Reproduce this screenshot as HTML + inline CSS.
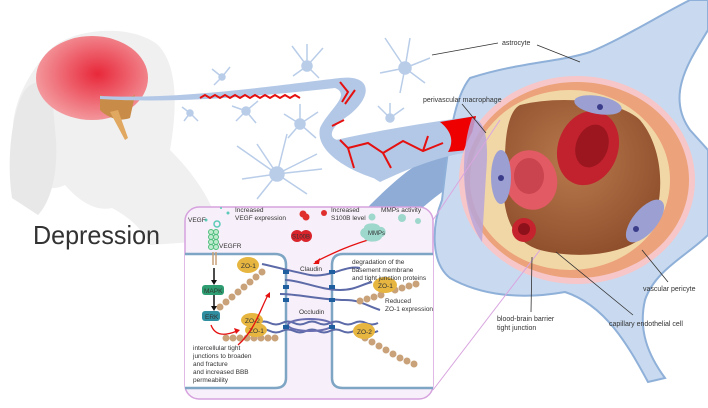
<!DOCTYPE html>
<html><head><meta charset="utf-8"><style>
html,body{margin:0;padding:0;background:#fff;width:708px;height:408px;overflow:hidden}
svg{display:block}
text{font-family:"Liberation Sans",sans-serif;fill:#333}
</style></head><body>
<svg width="708" height="408" viewBox="0 0 708 408" xmlns="http://www.w3.org/2000/svg">
<defs>
<radialGradient id="br" cx="0.55" cy="0.45" r="0.6"><stop offset="0" stop-color="#e8283a"/><stop offset="1" stop-color="#f4a0a4"/></radialGradient>
<radialGradient id="lum" cx="0.45" cy="0.4" r="0.7"><stop offset="0" stop-color="#b97a4e"/><stop offset="1" stop-color="#8a4a28"/></radialGradient>
</defs>
<!-- head silhouette -->
<path d="M45,55 C65,28 130,22 158,45 C180,68 176,115 170,150 C190,170 215,200 222,240 L150,245 C140,225 125,215 112,208 C95,212 78,200 65,185 C45,195 25,180 15,150 C8,120 18,88 45,55 Z" fill="#f0f0f0"/>
<path d="M25,90 C35,78 48,80 52,95 L56,140 C58,170 52,200 38,215 L12,198 C6,160 12,110 25,90Z" fill="#e8e8e8"/>
<!-- brain -->
<ellipse cx="92" cy="78" rx="56" ry="42" fill="url(#br)"/>
<path d="M100,95 C110,100 125,100 135,95 L130,118 C120,122 108,118 100,110Z" fill="#c98c48"/>
<path d="M110,112 L125,140 L128,138 L118,110Z" fill="#e0a860"/>
<!-- dark blue diagonal band -->
<path d="M290,300 L335,300 C380,250 420,200 470,175 L470,140 C430,150 400,175 370,205 C340,240 315,270 290,300Z" fill="#8eacd6"/>
<!-- astrocyte body -->
<path d="M470,78 C520,62 560,62 590,52 C620,40 660,15 690,0 L708,0 L708,30 C690,60 665,95 690,130 L708,150 L708,235 C688,255 655,270 645,300 C638,330 648,355 665,378 L648,382 C628,345 605,305 565,292 C520,300 480,295 450,278 C430,262 432,225 442,200 C448,150 452,100 470,78 Z" fill="#c9daf0" stroke="#8fb0d8" stroke-width="2"/>
<!-- vessel thin -->
<path d="M100,96 C180,100 280,85 340,78 C375,74 372,100 345,118 C330,128 328,138 338,140 L380,180 C345,170 315,150 320,128 C328,110 352,95 335,88 C270,95 180,104 100,99Z" fill="#b3c8e6"/>
<!-- thick vessel -->
<path d="M336,140 C380,130 430,122 476,116 L470,152 C440,156 410,168 380,182 C360,170 345,155 336,140Z" fill="#b3c8e6"/>
<path d="M440,122 L476,116 L468,150 L448,152 C455,140 450,130 440,122Z" fill="#e00"/>
<g stroke="#e51010" stroke-width="2" fill="none">
<path d="M200,98 l5,-3 l5,3 l5,-3 l5,3 l5,-3 l5,3 l5,-3 l5,3 l5,-3 l5,3 l5,-3 l5,3 l5,-3 l5,3 l5,-3 l5,3 l5,-3 l5,3 l5,-3 l5,3"/>
<path d="M340,82 l8,10 l-6,10 M355,90 l-10,14 M332,126 l12,-6 M340,140 l8,8 l6,20 M348,148 l20,-5 l15,10 l8,15 M383,153 l20,-12 l20,10 l20,-8 M423,151 l5,-15"/>
</g>
<!-- astrocytes -->
<g fill="#b9cde9" stroke="#b9cde9" stroke-width="1.5">
<circle cx="307" cy="66" r="5"/><circle cx="405" cy="68" r="6"/><circle cx="222" cy="77" r="3"/><circle cx="190" cy="113" r="3"/><circle cx="246" cy="111" r="4"/><circle cx="300" cy="124" r="5"/><circle cx="277" cy="174" r="7"/><circle cx="390" cy="118" r="4"/>
<path d="M307,66 l-15,-20 M307,66 l0,-22 M307,66 l16,-18 M307,66 l12,12 M307,66 l-14,10 M405,68 l-20,-30 M405,68 l5,-30 M405,68 l25,-10 M405,68 l20,15 M405,68 l-5,25 M405,68 l-25,5 M222,77 l-10,-8 M222,77 l8,-10 M222,77 l-8,8 M190,113 l-8,-6 M190,113 l8,8 M190,113 l-6,8 M246,111 l-14,-5 M246,111 l12,-10 M246,111 l10,12 M246,111 l-10,10 M300,124 l-16,-10 M300,124 l0,-20 M300,124 l18,-12 M300,124 l16,14 M300,124 l-12,14 M277,174 l-40,-28 M277,174 l-20,-30 M277,174 l10,-40 M277,174 l40,-20 M277,174 l-35,5 M277,174 l-20,25 M277,174 l30,20 M277,174 l45,-5 M390,118 l-12,-12 M390,118 l0,-15 M390,118 l14,-10" fill="none"/>
</g>
<!-- capillary cross-section -->
<ellipse cx="577" cy="180" rx="118" ry="104" fill="#f6c6c8"/>
<ellipse cx="577" cy="180" rx="112" ry="98" fill="#eca27a"/>
<ellipse cx="570" cy="180" rx="100" ry="90" fill="#f2d7a6"/>
<path d="M472,118 C460,150 460,210 482,242 L486,175 C490,130 482,120 472,118Z" fill="#b8a6d8" opacity="0.85"/>
<path d="M520,105 C560,95 620,100 640,120 C665,150 665,200 650,230 C630,255 580,260 540,250 C505,240 500,200 505,160 C505,130 510,110 520,105Z" fill="url(#lum)"/>
<ellipse cx="588" cy="148" rx="30" ry="38" transform="rotate(20 588 148)" fill="#c2222e"/>
<ellipse cx="592" cy="146" rx="16" ry="22" transform="rotate(20 592 146)" fill="#9c1620"/>
<ellipse cx="531" cy="180" rx="26" ry="30" transform="rotate(-15 531 180)" fill="#e25a64"/>
<ellipse cx="529" cy="176" rx="15" ry="18" fill="#c9444e"/>
<ellipse cx="524" cy="230" rx="12" ry="12" fill="#c5232e"/>
<ellipse cx="524" cy="229" rx="6" ry="6" fill="#8d111a"/>
<ellipse cx="501" cy="177" rx="10" ry="27" fill="#9c9fd2"/><circle cx="501" cy="178" r="3" fill="#3a3c8a"/>
<ellipse cx="598" cy="105" rx="24" ry="9" transform="rotate(10 598 105)" fill="#9c9fd2"/><circle cx="600" cy="107" r="3" fill="#3a3c8a"/>
<ellipse cx="645" cy="221" rx="12" ry="26" transform="rotate(40 645 221)" fill="#9c9fd2"/><circle cx="636" cy="229" r="3" fill="#3a3c8a"/>
<!-- inset -->
<path d="M433,220 L500,120 M433,390 L540,250" stroke="#d9a6e0" stroke-width="1" fill="none"/>
<rect x="185" y="207" width="248" height="192" rx="14" fill="#f7eff9" stroke="#d6a2de" stroke-width="1.5"/>
<g fill="#fff" stroke="#7ea6c4" stroke-width="2.5">
<path d="M185,254 L275,254 Q286,254 286,265 L286,378 Q286,388 275,388 L185,388"/>
<path d="M433,254 L343,254 Q332,254 332,265 L332,378 Q332,388 343,388 L433,388"/>
</g>
<g stroke="#5c6aa8" stroke-width="2" fill="none">
<path d="M262,264 C280,268 295,272 310,275 C330,278 345,265 360,268"/>
<path d="M285,280 C300,280 320,290 340,290 C355,290 360,285 372,282"/>
<path d="M280,294 C300,294 320,300 345,300 C360,300 365,305 380,310"/>
<path d="M258,323 q6,-3 12,0 q6,3 12,0 q6,-3 12,0 q6,3 12,0 q6,-3 12,0 q6,3 12,0 q6,-3 12,0 q6,3 12,0 q6,-3 12,0 q6,3 12,0"/>
<path d="M258,331 q6,-3 12,0 q6,3 12,0 q6,-3 12,0 q6,3 12,0 q6,-3 12,0 q6,3 12,0 q6,-3 12,0 q6,3 12,0 q6,-3 12,0 q6,3 12,0"/>
</g>
<ellipse cx="310" cy="325" rx="22" ry="6" fill="none" stroke="#6a6eb0" stroke-width="2"/>
<g fill="#1f5fa0"><rect x="283" y="270" width="6" height="4"/><rect x="283" y="285" width="6" height="4"/><rect x="283" y="298" width="6" height="4"/><rect x="329" y="270" width="6" height="4"/><rect x="329" y="285" width="6" height="4"/><rect x="329" y="298" width="6" height="4"/><rect x="283" y="325" width="6" height="4"/><rect x="329" y="325" width="6" height="4"/></g>
<g fill="#c9a27a">
<circle cx="262" cy="272" r="3.5"/><circle cx="256" cy="277" r="3.5"/><circle cx="250" cy="282" r="3.5"/><circle cx="244" cy="287" r="3.5"/><circle cx="238" cy="292" r="3.5"/><circle cx="232" cy="297" r="3.5"/><circle cx="226" cy="302" r="3.5"/><circle cx="220" cy="307" r="3.5"/>
<circle cx="226" cy="338" r="3.5"/><circle cx="233" cy="338" r="3.5"/><circle cx="240" cy="338" r="3.5"/><circle cx="247" cy="338" r="3.5"/><circle cx="254" cy="338" r="3.5"/><circle cx="261" cy="338" r="3.5"/><circle cx="268" cy="338" r="3.5"/><circle cx="275" cy="338" r="3.5"/>
<circle cx="360" cy="301" r="3.5"/><circle cx="367" cy="299" r="3.5"/><circle cx="374" cy="297" r="3.5"/><circle cx="381" cy="295" r="3.5"/><circle cx="395" cy="290" r="3.5"/><circle cx="402" cy="288" r="3.5"/><circle cx="409" cy="286" r="3.5"/><circle cx="416" cy="284" r="3.5"/>
<circle cx="365" cy="338" r="3.5"/><circle cx="372" cy="342" r="3.5"/><circle cx="379" cy="346" r="3.5"/><circle cx="386" cy="350" r="3.5"/><circle cx="393" cy="354" r="3.5"/><circle cx="400" cy="358" r="3.5"/><circle cx="407" cy="361" r="3.5"/><circle cx="414" cy="364" r="3.5"/>
</g>
<g fill="#e6b640">
<ellipse cx="248" cy="265" rx="11" ry="8"/><ellipse cx="252" cy="320" rx="11" ry="7"/><ellipse cx="256" cy="330" rx="11" ry="7"/><ellipse cx="385" cy="285" rx="12" ry="8"/><ellipse cx="364" cy="331" rx="11" ry="8"/>
</g>
<g font-size="6.5" fill="#333"><text x="241" y="268">ZO-1</text><text x="245" y="323">ZO-2</text><text x="249" y="333">ZO-1</text><text x="378" y="288">ZO-1</text><text x="357" y="334">ZO-2</text></g>
<g fill="#bfeacd" stroke="#4fbf7c" stroke-width="1"><circle cx="211" cy="232" r="2.5"/><circle cx="211" cy="237" r="2.5"/><circle cx="211" cy="242" r="2.5"/><circle cx="211" cy="247" r="2.5"/><circle cx="216" cy="232" r="2.5"/><circle cx="216" cy="237" r="2.5"/><circle cx="216" cy="242" r="2.5"/><circle cx="216" cy="247" r="2.5"/></g>
<circle cx="217" cy="224" r="3" fill="none" stroke="#5ccab8" stroke-width="1.5"/>
<path d="M213,252 L213,265 M216,252 L216,265" stroke="#c9a27a" stroke-width="1.5"/>
<path d="M214,268 L214,282 M214,294 L214,308" stroke="#111" stroke-width="1.5"/>
<path d="M211,280 L214,285 L217,280Z M211,306 L214,311 L217,306Z" fill="#111"/>
<rect x="202" y="285" width="22" height="10" rx="3" fill="#2e9e72"/>
<rect x="202" y="311" width="18" height="10" rx="3" fill="#2f8ea0"/>
<text x="204" y="293" font-size="6.5" fill="#fff">MAPK</text>
<text x="205" y="319" font-size="6.5" fill="#fff">ERK</text>
<g stroke="#e51010" stroke-width="1.3" fill="none">
<path d="M211,325 C215,336 225,336 237,331"/>
<path d="M238,345 C255,330 260,310 268,295"/>
<path d="M378,237 C350,245 335,252 315,262"/>
</g>
<path d="M240,330 L234,328 L236,334Z M270,292 L265,296 L270,298Z M313,264 L320,258 L319,264Z" fill="#e51010"/>
<circle cx="297" cy="236" r="6" fill="#d9242c"/><circle cx="306" cy="236" r="6" fill="#d9242c"/>
<text x="292" y="238.5" font-size="6" fill="#222">S100B</text>
<circle cx="303" cy="214" r="3.5" fill="#e0302e"/><circle cx="306" cy="217" r="3.5" fill="#e0302e"/>
<circle cx="324" cy="213" r="3" fill="#e0302e"/>
<path d="M364,228 c0,-6 14,-6 16,-1 c6,-1 8,8 2,10 c-2,6 -16,6 -18,1 c-5,-2 -5,-8 0,-10Z" fill="#9ed8cc"/>
<circle cx="372" cy="217" r="3.5" fill="#9ed8cc"/><circle cx="402" cy="218" r="4" fill="#9ed8cc"/><circle cx="418" cy="221" r="3" fill="#9ed8cc"/>
<circle cx="221" cy="208" r="1" fill="#5ccab8"/><circle cx="228" cy="213" r="1.5" fill="#5ccab8"/><circle cx="206" cy="220" r="1.5" fill="#5ccab8"/>
<g font-size="6.5">
<text x="188" y="222">VEGF</text>
<text x="235" y="212">Increased</text><text x="235" y="220">VEGF expression</text>
<text x="331" y="212">Increased</text><text x="331" y="220">S100B level</text>
<text x="381" y="212">MMPs activity</text>
<text x="368" y="235" font-size="6">MMPs</text>
<text x="219" y="248">VEGFR</text>
<text x="300" y="271">Claudin</text>
<text x="299" y="314">Occludin</text>
<text x="352" y="264">degradation of the</text>
<text x="352" y="272">basement membrane</text>
<text x="352" y="280">and tight junction proteins</text>
<text x="385" y="303">Reduced</text><text x="385" y="311">ZO-1 expression</text>
<text x="193" y="350">intercellular tight</text>
<text x="193" y="358">junctions to broaden</text>
<text x="193" y="366">and fracture</text>
<text x="193" y="374">and increased BBB</text>
<text x="193" y="382">permeability</text>
</g>
<g stroke="#333" stroke-width="0.8" fill="none">
<path d="M432,55 L498,43 M537,45 L580,62 M462,104 L486,133 M556,252 L633,315 M642,250 L668,282 M532,257 L531,312"/>
</g>
<g font-size="7">
<text x="502" y="45">astrocyte</text>
<text x="423" y="102">perivascular macrophage</text>
<text x="643" y="291">vascular pericyte</text>
<text x="609" y="326">capillary endothelial cell</text>
<text x="497" y="321">blood-brain barrier</text>
<text x="497" y="330">tight junction</text>
</g>
<text x="33" y="244" font-size="26" fill="#222" textLength="127" lengthAdjust="spacingAndGlyphs">Depression</text>
</svg>
</body></html>
